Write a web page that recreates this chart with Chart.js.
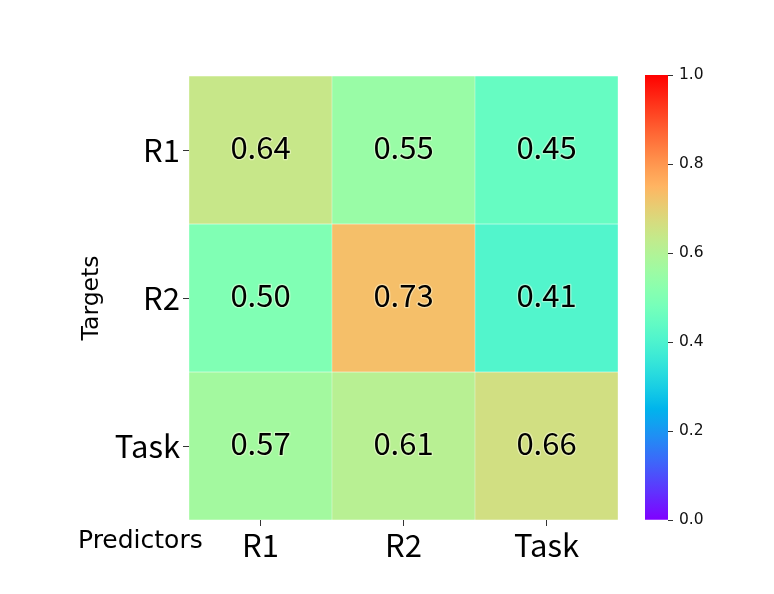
<!DOCTYPE html>
<html>
<head>
<meta charset="utf-8">
<script src="https://cdn.jsdelivr.net/npm/chart.js@4.4.1/dist/chart.umd.min.js"></script>
<style>
  html, body { margin: 0; padding: 0; background: #ffffff; }
  #wrap { position: relative; width: 774px; height: 594px; }
  canvas { position: absolute; left: 0; top: 0; }
</style>
</head>
<body>
<div id="wrap">
  <canvas id="heat" width="774" height="594"></canvas>
  <canvas id="cbar" width="774" height="594"></canvas>
</div>
<script>
// ---- data ----
const predictors = ['R1', 'R2', 'Task'];          // columns (x)
const targets = ['R1', 'R2', 'Task'];             // rows (y, top to bottom)
const rowR1 = [0.64, 0.55, 0.45];
const rowR2 = [0.50, 0.73, 0.41];
const rowTask = [0.57, 0.61, 0.66];
const colorbarTicks = [0, 0.2, 0.4, 0.6, 0.8, 1.0];
const xTitle = 'Predictors';
const yTitle = 'Targets';

const rows = [rowR1, rowR2, rowTask];

// matplotlib "rainbow" colormap
function rainbow(t) {
  t = Math.max(0, Math.min(1, t));
  const r = Math.min(1, Math.abs(2 * t - 0.5));
  const g = Math.sin(Math.PI * t);
  const b = Math.cos(Math.PI * t / 2);
  return `rgb(${Math.round(r * 255)},${Math.round(g * 255)},${Math.round(b * 255)})`;
}

const TICK_FONT = { family: '"Noto Sans CJK JP", "Noto Sans", sans-serif', size: 31 };
const LABEL_FONT = { family: '"DejaVu Sans", sans-serif', size: 23.5 };

const cellLabels = {
  id: 'cellLabels',
  afterDatasetsDraw(chart) {
    const ctx = chart.ctx;
    ctx.save();
    ctx.font = `${TICK_FONT.size}px ${TICK_FONT.family}`;
    ctx.textAlign = 'center';
    ctx.textBaseline = 'middle';
    ctx.lineJoin = 'round';
    chart.data.datasets.forEach((ds, di) => {
      const meta = chart.getDatasetMeta(di);
      meta.data.forEach((el, i) => {
        const c = el.getCenterPoint();
        const txt = ds.cellValues[i].toFixed(2);
        const y = c.y - 3;
        ctx.strokeStyle = 'rgba(255,255,230,0.45)';
        ctx.lineWidth = 2.5;
        ctx.strokeText(txt, c.x, y);
        ctx.fillStyle = '#000';
        ctx.fillText(txt, c.x, y);
      });
    });
    ctx.restore();
  }
};

const cornerTitle = {
  id: 'cornerTitle',
  afterDraw(chart) {
    const ctx = chart.ctx;
    ctx.save();
    ctx.font = `25px ${LABEL_FONT.family}`;
    ctx.fillStyle = '#000';
    ctx.textAlign = 'left';
    ctx.textBaseline = 'alphabetic';
    const xs = chart.scales.x;
    ctx.fillText(xTitle, 78, xs.top + 28);
    ctx.restore();
  }
};

new Chart(document.getElementById('heat'), {
  type: 'bar',
  data: {
    labels: predictors,
    datasets: rows.map((vals, r) => ({
      label: targets[r],
      data: vals.map(() => 1),
      cellValues: vals,
      backgroundColor: vals.map(rainbow),
      borderColor: 'rgba(255,255,255,0.3)',
      borderWidth: 0.5,
      barPercentage: 1,
      categoryPercentage: 1,
      borderSkipped: false
    }))
  },
  options: {
    responsive: false,
    devicePixelRatio: 1,
    animation: false,
    layout: { padding: { left: 0, top: 76, right: 156, bottom: 0 } },
    plugins: { legend: { display: false }, tooltip: { enabled: false } },
    scales: {
      x: {
        stacked: true,
        offset: true,
        grid: { offset: false, drawOnChartArea: false, drawTicks: true, tickLength: 6, color: '#333' },
        border: { display: false },
        ticks: { font: TICK_FONT, color: '#000', padding: 1, maxRotation: 0 },
        afterFit(scale) { scale.height = 74; }
      },
      y: {
        stacked: true,
        min: 0, max: 3,
        reverse: true,
        grid: { drawOnChartArea: false, drawTicks: true, tickLength: 6, color: '#333' },
        border: { display: false },
        afterBuildTicks(scale) { scale.ticks = [0.5, 1.5, 2.5].map(v => ({ value: v })); },
        ticks: { font: TICK_FONT, color: '#000', padding: 3, callback: (v, i) => targets[i] },
        title: { display: true, text: yTitle, font: LABEL_FONT, color: '#000', padding: { top: 78 } },
        afterFit(scale) { scale.width = 189; }
      }
    }
  },
  plugins: [cellLabels, cornerTitle]
});

// colorbar
new Chart(document.getElementById('cbar'), {
  type: 'bar',
  data: {
    labels: ['cb'],
    datasets: [{
      data: [[colorbarTicks[0], colorbarTicks[colorbarTicks.length - 1]]],
      barPercentage: 1,
      categoryPercentage: 1,
      borderWidth: 0,
      backgroundColor(ctx) {
        const chart = ctx.chart;
        const a = chart.chartArea;
        if (!a) return 'rgba(0,0,0,0)';
        const g = chart.ctx.createLinearGradient(0, a.bottom, 0, a.top);
        for (let k = 0; k <= 64; k++) g.addColorStop(k / 64, rainbow(k / 64));
        return g;
      }
    }]
  },
  options: {
    responsive: false,
    devicePixelRatio: 1,
    animation: false,
    layout: { padding: { left: 645, top: 75, right: 46, bottom: 74 } },
    plugins: { legend: { display: false }, tooltip: { enabled: false } },
    scales: {
      x: { display: false },
      y: {
        position: 'right',
        min: 0, max: 1,
        grid: { drawOnChartArea: false, drawTicks: true, tickLength: 5, color: '#333' },
        border: { display: false },
        afterBuildTicks(scale) { scale.ticks = colorbarTicks.map(v => ({ value: v })); },
        ticks: {
          font: { family: '"DejaVu Sans", sans-serif', size: 15.5 },
          color: '#111', padding: 6,
          callback: (v) => Number(v).toFixed(1)
        },
        afterFit(scale) { scale.width = 60; }
      }
    }
  }
});
</script>
</body>
</html>
